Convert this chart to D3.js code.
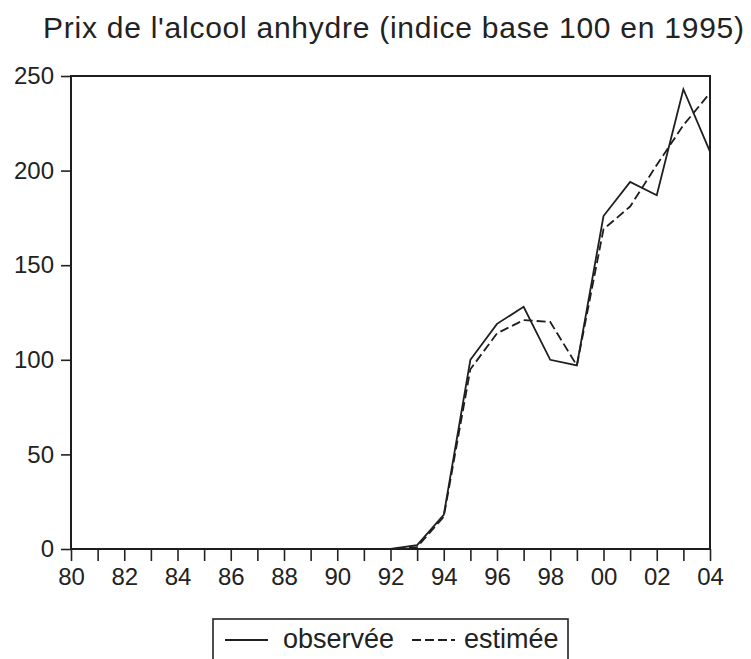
<!DOCTYPE html>
<meta charset="utf-8">
<style>
	body { margin: 0; background: #fff; }
	text { font-family: "Liberation Sans", Arial, sans-serif; fill: #222; }
	.axis path { display: none; }
	.axis line { stroke: #222; stroke-width: 1.6px; }
	.line { fill: none; stroke: #1e1e1e; stroke-width: 1.8px; }
</style>
<svg id="chart" width="751" height="659"></svg>
<script src="https://cdn.jsdelivr.net/npm/d3@7"></script>
<script>
	// data
	var years = [1980,1981,1982,1983,1984,1985,1986,1987,1988,1989,1990,1991,1992,
		1993,1994,1995,1996,1997,1998,1999,2000,2001,2002,2003,2004];
	var observee = [0,0,0,0,0,0,0,0,0,0,0,0,0,
		2,18,100,119,128,100,97,176,194,187,243,210];
	var estimee = [0,0,0,0,0,0,0,0,0,0,0,0,0,
		1,17,95,114,121,120,97,169,181,203,224,241];
	var xLabelYears = [1980,1982,1984,1986,1988,1990,1992,1994,1996,1998,2000,2002,2004];
	var xLabels = ["80","82","84","86","88","90","92","94","96","98","00","02","04"];
	var yTicks = [0,50,100,150,200,250];
	var seriesNames = ["observée","estimée"];

	var svg = d3.select("#chart");
	var plotLeft = 71, plotRight = 710, plotTop = 76, plotBottom = 549;

	var x = d3.scaleLinear().domain([1980, 2004]).range([plotLeft, plotRight]),
		y = d3.scaleLinear().domain([0, 250]).range([plotBottom, plotTop]);

	svg.append("text")
		.attr("x", 43)
		.attr("y", 38)
		.attr("textLength", 701)
		.attr("lengthAdjust", "spacing")
		.style("font-size", "30px")
		.text("Prix de l'alcool anhydre (indice base 100 en 1995)");

	// axes
	svg.append("g")
		.attr("class", "axis axis--y")
		.attr("transform", "translate(" + plotLeft + ",0)")
		.call(d3.axisLeft(y).tickValues(yTicks).tickSize(10).tickPadding(7))
		.selectAll("text")
		.style("font-size", "24px");

	svg.append("g")
		.attr("class", "axis axis--x")
		.attr("transform", "translate(0," + plotBottom + ")")
		.call(d3.axisBottom(x).tickValues(years).tickSize(12).tickPadding(7)
			.tickFormat(function(d) {
				var i = xLabelYears.indexOf(d);
				return i < 0 ? "" : xLabels[i];
			}))
		.selectAll("text")
		.style("font-size", "24px");

	// frame
	svg.append("rect")
		.attr("x", plotLeft)
		.attr("y", plotTop)
		.attr("width", plotRight - plotLeft)
		.attr("height", plotBottom - plotTop)
		.attr("fill", "none")
		.attr("stroke", "#1e1e1e")
		.attr("stroke-width", 2);

	var line = d3.line()
		.x(function(d, i) { return x(years[i]); })
		.y(function(d) { return y(d); });

	svg.append("path")
		.attr("class", "line")
		.attr("d", line(estimee))
		.style("stroke-dasharray", "9,4");

	svg.append("path")
		.attr("class", "line")
		.attr("d", line(observee));

	// legend
	var lg = svg.append("g").attr("transform", "translate(213,619)");
	lg.append("rect")
		.attr("width", 355)
		.attr("height", 60)
		.attr("fill", "#fff")
		.attr("stroke", "#222")
		.attr("stroke-width", 1.6);

	var items = [
		{name: seriesNames[0], x0: 12, tx: 70, dash: null},
		{name: seriesNames[1], x0: 199, tx: 251, dash: "9,4"}
	];
	items.forEach(function(it) {
		lg.append("line")
			.attr("x1", it.x0).attr("x2", it.x0 + 43)
			.attr("y1", 21).attr("y2", 21)
			.attr("stroke", "#1e1e1e")
			.attr("stroke-width", 1.8)
			.style("stroke-dasharray", it.dash);
		lg.append("text")
			.attr("x", it.tx)
			.attr("y", 29)
			.style("font-size", "27px")
			.text(it.name);
	});
</script>
